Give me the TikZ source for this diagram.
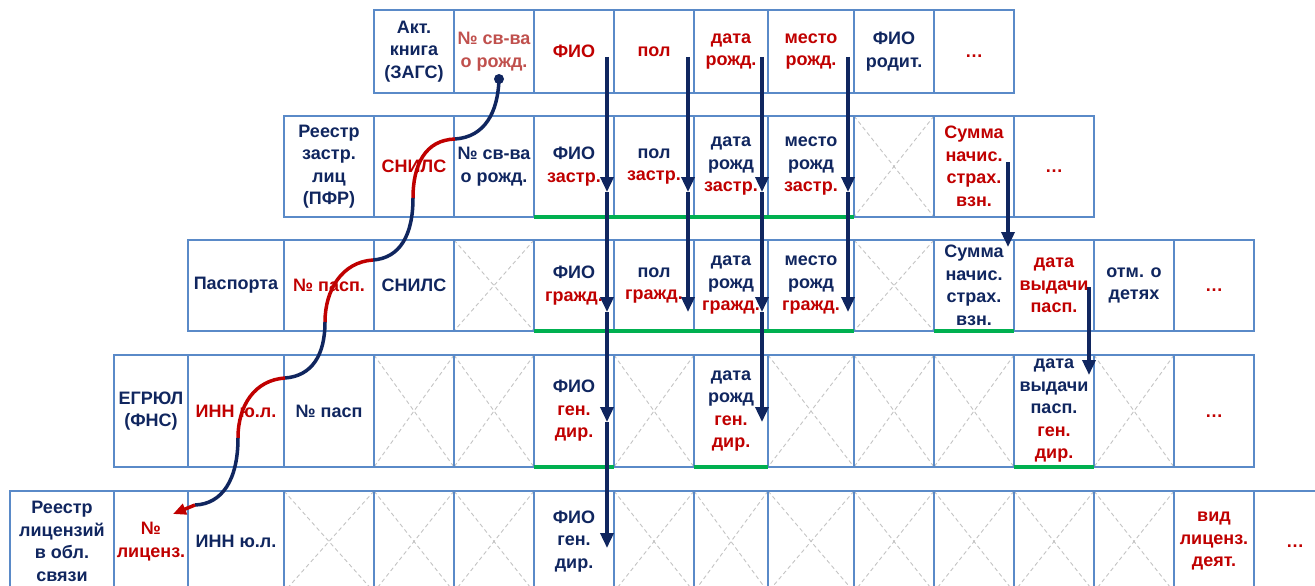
\documentclass[tikz,border=0pt]{standalone}
\usepackage{fontspec}
\setmainfont{Liberation Sans}
\usetikzlibrary{arrows.meta}
\definecolor{navy}{HTML}{10265F}
\definecolor{dred}{HTML}{C00000}
\definecolor{lred}{HTML}{C0504D}
\definecolor{cellblue}{HTML}{5A8AC8}
\definecolor{hgreen}{HTML}{00B050}
\definecolor{xgray}{HTML}{C4C4C4}
\newcommand\cfnt{\fontsize{18}{22.5}\selectfont\bfseries}
\newcommand\rd[1]{\textcolor{dred}{#1}}
\newcommand\dotsx{\vphantom{И}…}
\newcommand\cellat[7]{\node[#6,minimum width={#3-#2},minimum height={#5-#4}] (#1) at ({(#2+#3)/2},{(#4+#5)/2}) {#7};}
\begin{document}
\begin{tikzpicture}[x=1pt,y=-1pt,
  cellnode/.style={draw=cellblue,line width=2.5pt,outer sep=0pt,inner sep=0pt,align=center,text=navy,font=\cfnt},
  redcell/.style={cellnode,text=dred},
  lredcell/.style={cellnode,text=lred},
  xcell/.style={cellnode,path picture={
     \draw[xgray,line width=0.9pt,dash pattern=on 4pt off 3pt]
       (path picture bounding box.north west) -- (path picture bounding box.south east)
       (path picture bounding box.north east) -- (path picture bounding box.south west);}},
  greenline/.style={draw=hgreen,line width=3.5pt},
  varrow/.style={draw=navy,line width=3.5pt,-{Triangle[width=13pt,length=15pt]}},
  cnavy/.style={draw=navy,line width=3.5pt},
  cred/.style={draw=dred,line width=3.5pt}]
\useasboundingbox (0,0) rectangle (1315,586);
\fill[white] (0,0) rectangle (1315,586);
\clip (0,0) rectangle (1315,586);
% Row 1
\cellat{r1c1}{374}{454}{10}{93}{cellnode}{Акт.\\книга\\(ЗАГС)}
\cellat{r1c2}{454}{534}{10}{93}{lredcell}{№ св-ва\\о рожд.}
\cellat{r1c3}{534}{614}{10}{93}{redcell}{ФИО}
\cellat{r1c4}{614}{694}{10}{93}{redcell}{пол}
\cellat{r1c5}{694}{768}{10}{93}{redcell}{дата\\рожд.}
\cellat{r1c6}{768}{854}{10}{93}{redcell}{место\\рожд.}
\cellat{r1c7}{854}{934}{10}{93}{cellnode}{ФИО\\родит.}
\cellat{r1c8}{934}{1014}{10}{93}{redcell}{\dotsx}
% Row 2
\cellat{r2c1}{284}{374}{116}{217}{cellnode}{Реестр\\застр.\\лиц\\(ПФР)}
\cellat{r2c2}{374}{454}{116}{217}{redcell}{СНИЛС}
\cellat{r2c3}{454}{534}{116}{217}{cellnode}{№ св-ва\\о рожд.}
\cellat{r2c4}{534}{614}{116}{217}{cellnode}{ФИО\\\rd{застр.}}
\cellat{r2c5}{614}{694}{116}{217}{cellnode}{пол\\\rd{застр.}}
\cellat{r2c6}{694}{768}{116}{217}{cellnode}{дата\\рожд\\\rd{застр.}}
\cellat{r2c7}{768}{854}{116}{217}{cellnode}{место\\рожд\\\rd{застр.}}
\cellat{r2c8}{854}{934}{116}{217}{xcell}{}
\cellat{r2c9}{934}{1014}{116}{217}{redcell}{Сумма\\начис.\\страх.\\взн.}
\cellat{r2c10}{1014}{1094}{116}{217}{redcell}{\dotsx}
% Row 3
\cellat{r3c1}{188}{284}{240}{331}{cellnode}{Паспорта}
\cellat{r3c2}{284}{374}{240}{331}{redcell}{№ пасп.}
\cellat{r3c3}{374}{454}{240}{331}{cellnode}{СНИЛС}
\cellat{r3c4}{454}{534}{240}{331}{xcell}{}
\cellat{r3c5}{534}{614}{240}{331}{cellnode}{ФИО\\\rd{гражд.}}
\cellat{r3c6}{614}{694}{240}{331}{cellnode}{пол\\\rd{гражд.}}
\cellat{r3c7}{694}{768}{240}{331}{cellnode}{дата\\рожд\\\rd{гражд.}}
\cellat{r3c8}{768}{854}{240}{331}{cellnode}{место\\рожд\\\rd{гражд.}}
\cellat{r3c9}{854}{934}{240}{331}{xcell}{}
\cellat{r3c10}{934}{1014}{240}{331}{cellnode}{Сумма\\начис.\\страх.\\взн.}
\cellat{r3c11}{1014}{1094}{240}{331}{redcell}{дата\\выдачи\\пасп.}
\cellat{r3c12}{1094}{1174}{240}{331}{cellnode}{отм. о\\детях}
\cellat{r3c13}{1174}{1254}{240}{331}{redcell}{\dotsx}
% Row 4
\cellat{r4c1}{114}{188}{355}{467}{cellnode}{ЕГРЮЛ\\(ФНС)}
\cellat{r4c2}{188}{284}{355}{467}{redcell}{ИНН ю.л.}
\cellat{r4c3}{284}{374}{355}{467}{cellnode}{№ пасп}
\cellat{r4c4}{374}{454}{355}{467}{xcell}{}
\cellat{r4c5}{454}{534}{355}{467}{xcell}{}
\cellat{r4c6}{534}{614}{355}{467}{cellnode}{ФИО\\\rd{ген.}\\\rd{дир.}}
\cellat{r4c7}{614}{694}{355}{467}{xcell}{}
\cellat{r4c8}{694}{768}{355}{467}{cellnode}{дата\\рожд\\\rd{ген.}\\\rd{дир.}}
\cellat{r4c9}{768}{854}{355}{467}{xcell}{}
\cellat{r4c10}{854}{934}{355}{467}{xcell}{}
\cellat{r4c11}{934}{1014}{355}{467}{xcell}{}
\cellat{r4c12}{1014}{1094}{355}{467}{cellnode}{дата\\выдачи\\пасп.\\\rd{ген.}\\\rd{дир.}}
\cellat{r4c13}{1094}{1174}{355}{467}{xcell}{}
\cellat{r4c14}{1174}{1254}{355}{467}{redcell}{\dotsx}
% Row 5
\cellat{r5c1}{10}{114}{491}{592}{cellnode}{Реестр\\лицензий\\в обл.\\связи}
\cellat{r5c2}{114}{188}{491}{592}{redcell}{№\\лиценз.}
\cellat{r5c3}{188}{284}{491}{592}{cellnode}{ИНН ю.л.}
\cellat{r5c4}{284}{374}{491}{592}{xcell}{}
\cellat{r5c5}{374}{454}{491}{592}{xcell}{}
\cellat{r5c6}{454}{534}{491}{592}{xcell}{}
\cellat{r5c7}{534}{614}{491}{592}{cellnode}{ФИО\\ген.\\дир.}
\cellat{r5c8}{614}{694}{491}{592}{xcell}{}
\cellat{r5c9}{694}{768}{491}{592}{xcell}{}
\cellat{r5c10}{768}{854}{491}{592}{xcell}{}
\cellat{r5c11}{854}{934}{491}{592}{xcell}{}
\cellat{r5c12}{934}{1014}{491}{592}{xcell}{}
\cellat{r5c13}{1014}{1094}{491}{592}{xcell}{}
\cellat{r5c14}{1094}{1174}{491}{592}{xcell}{}
\cellat{r5c15}{1174}{1254}{491}{592}{redcell}{вид\\лиценз.\\деят.}
\cellat{r5c16}{1254}{1336}{491}{592}{redcell}{\dotsx}
% green underlines
\draw[greenline] (r2c4.south west) -- (r2c7.south east);
\draw[greenline] (r3c5.south west) -- (r3c8.south east);
\draw[greenline] (r3c10.south west) -- (r3c10.south east);
\draw[greenline] (r4c6.south west) -- (r4c6.south east);
\draw[greenline] (r4c8.south west) -- (r4c8.south east);
\draw[greenline] (r4c12.south west) -- (r4c12.south east);
% curved link
\node[circle,fill=navy,inner sep=0pt,minimum size=10pt] (dot) at (499,79) {};
\coordinate (h1) at (455,139);
\coordinate (v1) at (413,198);
\coordinate (h2) at (373,260);
\coordinate (v2) at (325,322);
\coordinate (h3) at (285,378);
\coordinate (v3) at (238,438);
\coordinate (ce) at (195,505);
\coordinate (ctip) at (173,514);
\draw[cnavy] (dot.center) .. controls (498,112) and (485,137) .. (h1);
\draw[cred] (h1) .. controls (425,140) and (413,165) .. (v1);
\draw[cnavy] (v1) .. controls (413,235) and (400,258) .. (h2);
\draw[cred] (h2) .. controls (342,262) and (325,290) .. (v2);
\draw[cnavy] (v2) .. controls (325,355) and (312,376) .. (h3);
\draw[cred] (h3) .. controls (255,380) and (238,405) .. (v3);
\draw[cnavy] (v3) .. controls (238,480) and (222,504) .. (ce);
\draw[cred,-{Triangle[width=11pt,length=13pt]}] (ce) -- (ctip);
% vertical arrows
\coordinate (a0) at (607,57);
\coordinate (a1) at (607,192);
\coordinate (a2) at (607,312);
\coordinate (a3) at (607,422);
\coordinate (a4) at (607,548);
\coordinate (b0) at (688,57);
\coordinate (b1) at (688,192);
\coordinate (b2) at (688,312);
\coordinate (c0) at (762,57);
\coordinate (c1) at (762,192);
\coordinate (c2) at (762,312);
\coordinate (c3) at (762,422);
\coordinate (d0) at (848,57);
\coordinate (d1) at (848,192);
\coordinate (d2) at (848,312);
\coordinate (s0) at (1008,162);
\coordinate (s1) at (1008,247);
\coordinate (p0) at (1089,287);
\coordinate (p1) at (1089,375);
\draw[varrow] (a0) -- (a1);
\draw[varrow] (a1) -- (a2);
\draw[varrow] (a2) -- (a3);
\draw[varrow] (a3) -- (a4);
\draw[varrow] (b0) -- (b1);
\draw[varrow] (b1) -- (b2);
\draw[varrow] (c0) -- (c1);
\draw[varrow] (c1) -- (c2);
\draw[varrow] (c2) -- (c3);
\draw[varrow] (d0) -- (d1);
\draw[varrow] (d1) -- (d2);
\draw[varrow] (s0) -- (s1);
\draw[varrow] (p0) -- (p1);
\end{tikzpicture}
\end{document}
